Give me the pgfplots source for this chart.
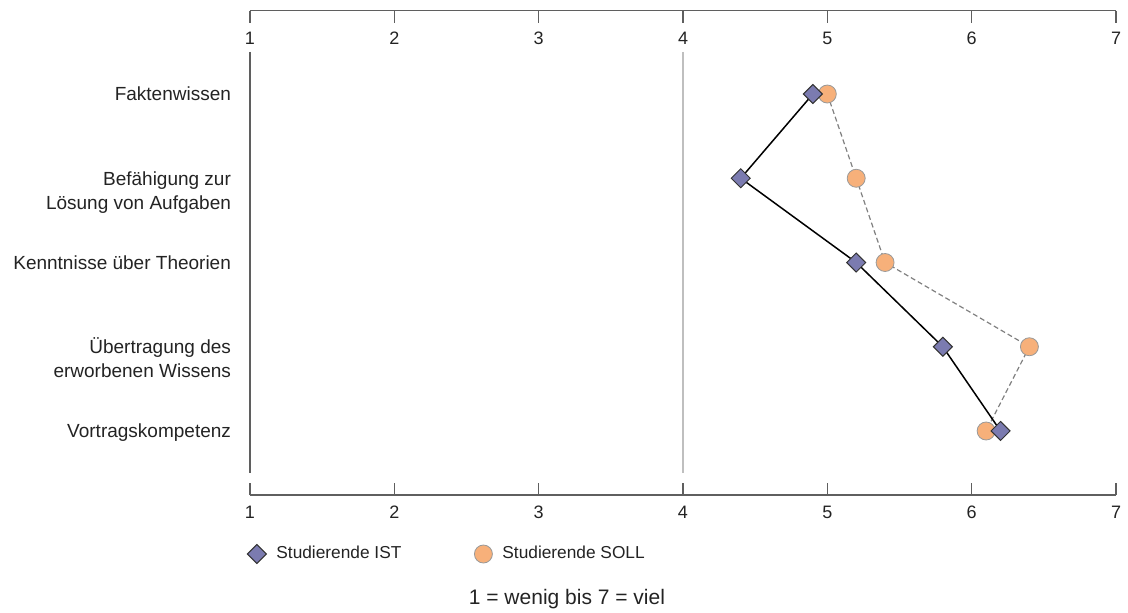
\documentclass[border=0pt]{standalone}
\usepackage{fontspec}
\setmainfont{Liberation Sans}
\usepackage{pgfplots}
\usepackage{pgfplotstable}
\pgfplotsset{compat=1.18}
\definecolor{istfill}{RGB}{123,123,176}
\definecolor{sollfill}{RGB}{247,176,122}
\definecolor{axgray}{RGB}{95,95,95}
\definecolor{txt}{RGB}{35,35,35}
\pgfplotstableread{
y ist soll
1 4.9 5.0
2 4.4 5.2
3 5.2 5.4
4 5.8 6.4
5 6.2 6.1
}\datatable
\newcommand{\twol}[2]{\begin{tabular}[t]{@{}r@{}}#1\\#2\end{tabular}}
\begin{document}
\begin{tikzpicture}
\useasboundingbox (-125pt,-58.5pt) rectangle (439pt,247.5pt);
\begin{axis}[
  at={(0,0)}, anchor=south west,
  scale only axis, width=433pt, height=242.15pt,
  xmin=1, xmax=7, ymin=0.011, ymax=5.76, y dir=reverse,
  separate axis lines,
  x axis line style={draw=axgray, line width=0.7pt},
  y axis line style={draw=none},
  xtick={1,...,7}, xtick pos=both, tick align=inside,
  xticklabel pos=lower,
  major tick length=6pt,
  xtick style={draw=axgray, line width=0.6pt},
  ytick={1,2,3,4,5},
  ytick style={draw=none},
  yticklabels={Faktenwissen, {\twol{Befähigung zur}{Lösung von Aufgaben}}, Kenntnisse über Theorien, {\twol{Übertragung des}{erworbenen Wissens}}, Vortragskompetenz},
  yticklabel style={anchor=base east, xshift=-6pt, yshift=-3.4pt, font=\fontsize{9.5}{12}\selectfont, text=txt},
  xticklabel style={anchor=center, yshift=-8.5pt, font=\fontsize{9}{11}\selectfont, text=txt},
  /pgf/number format/assume math mode=true,
  legend columns=2,
  legend style={draw=none, fill=none, at={(0,0)}, anchor=west, xshift=-4.5pt, yshift=-29.5pt, font=\fontsize{8.65}{10}\selectfont, text=txt,
    /tikz/every odd column/.append style={column sep=3pt},
    /tikz/every even column/.append style={column sep=34.5pt}},
  clip=false,
]
\addplot[forget plot, draw=black!25, line width=0.6pt] coordinates {(4,0.5) (4,5.5)};
\addplot[forget plot, draw=axgray, line width=0.6pt] coordinates {(1,0.5) (1,5.5)};
\addplot[forget plot, draw=black!50, line width=0.6pt, dash pattern=on 2.5pt off 1.5pt,
  mark=*, mark size=4.5pt, mark options={solid, fill=sollfill, draw=black!40, line width=0.4pt}]
  table[x=soll, y=y] {\datatable};
\addplot[forget plot, draw=black, line width=0.75pt,
  mark=square*, mark size=3.36pt, mark options={solid, rotate=45, fill=istfill, draw=black!80, line width=0.5pt}]
  table[x=ist, y=y] {\datatable};
\addlegendimage{only marks, mark=square*, mark size=3.36pt, mark options={rotate=45, fill=istfill, draw=black!80, line width=0.5pt}}
\addlegendentry{Studierende IST}
\addlegendimage{only marks, mark=*, mark size=4.5pt, mark options={fill=sollfill, draw=black!40, line width=0.4pt}}
\addlegendentry{Studierende SOLL}
\node[font=\fontsize{10.5}{12}\selectfont, text=txt] at (axis description cs:0.366,0) [yshift=-52pt] {1 = wenig bis 7 = viel};
\end{axis}
\begin{axis}[
  at={(0,0)}, anchor=south west,
  scale only axis, width=433pt, height=242.15pt,
  xmin=1, xmax=7, ymin=0, ymax=1,
  axis line style={draw=none},
  xtick={1,...,7}, ytick=\empty,
  xtick pos=upper, xticklabel pos=upper,
  xtick style={draw=none},
  xticklabel style={anchor=center, yshift=-13.65pt, font=\fontsize{9}{11}\selectfont, text=txt},
  /pgf/number format/assume math mode=true,
]
\end{axis}
\end{tikzpicture}
\end{document}
